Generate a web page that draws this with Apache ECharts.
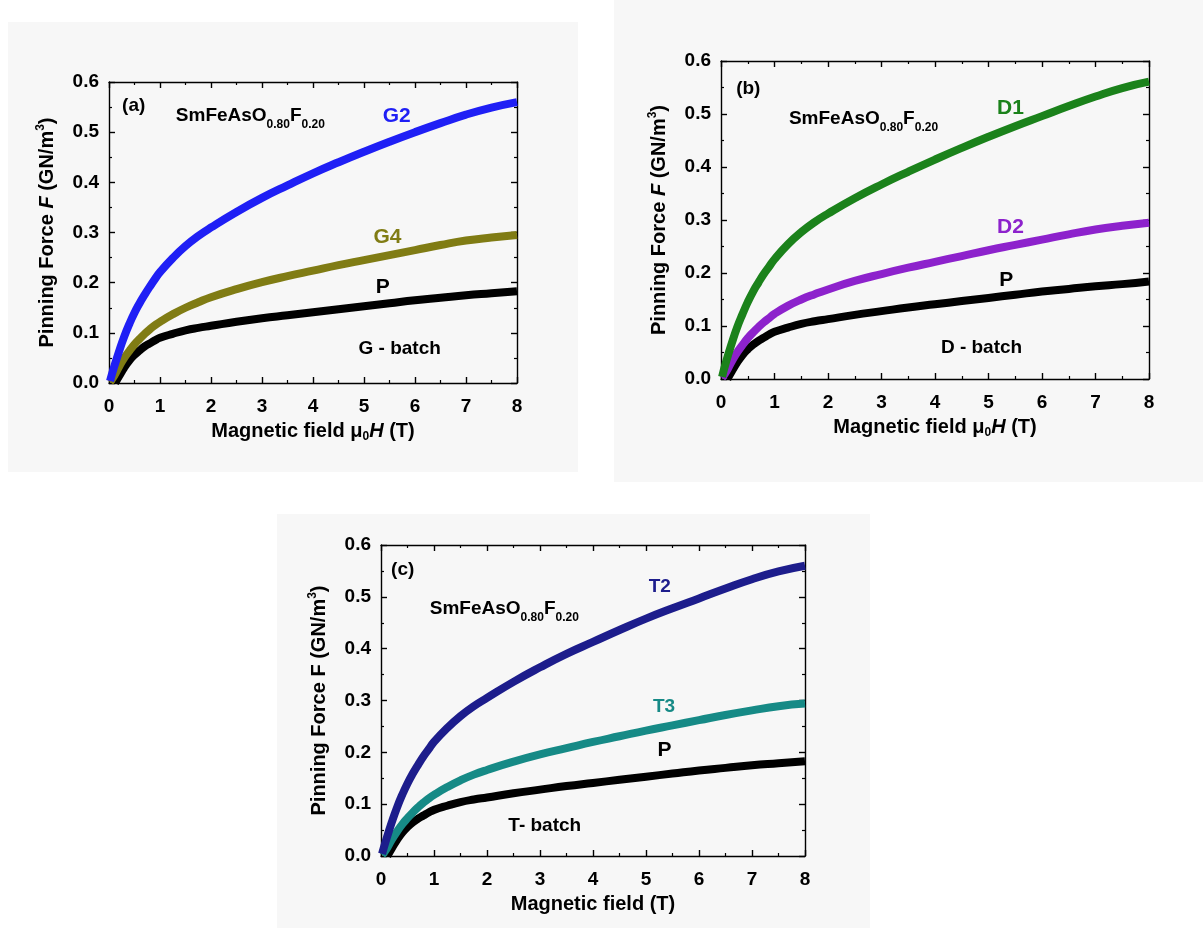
<!DOCTYPE html>
<html><head><meta charset="utf-8">
<script src="https://cdn.jsdelivr.net/npm/echarts@6/dist/echarts.min.js"></script>
<style>html,body{margin:0;padding:0;background:#fff}#c{width:1203px;height:928px}</style>
</head><body><div id="c"></div>
<script>
// ---------- data ----------
const fieldTicks = [0, 1, 2, 3, 4, 5, 6, 7, 8];
const forceTicks = [0.0, 0.1, 0.2, 0.3, 0.4, 0.5, 0.6];
const fieldHigh = [0.02, 0.1, 0.2, 0.3, 0.4, 0.5, 0.6, 0.7, 0.8, 0.9, 1, 1.25, 1.5, 1.75, 2, 2.5, 3, 3.5, 4, 4.5, 5, 5.5, 6, 6.5, 7, 7.5, 8];
const fieldP    = [0.12, 0.2, 0.3, 0.4, 0.5, 0.6, 0.7, 0.8, 0.9, 1, 1.25, 1.5, 1.75, 2, 2.5, 3, 3.5, 4, 4.5, 5, 5.5, 6, 6.5, 7, 7.5, 8];

// panel (a) G-batch
const forceG2 = [0.004, 0.032, 0.064, 0.093, 0.118, 0.140, 0.159, 0.176, 0.192, 0.207, 0.221, 0.249, 0.273, 0.293, 0.310, 0.341, 0.369, 0.394, 0.418, 0.440, 0.461, 0.481, 0.500, 0.518, 0.535, 0.549, 0.560];
const forceG4 = [0.002, 0.014, 0.033, 0.050, 0.064, 0.077, 0.088, 0.098, 0.107, 0.115, 0.122, 0.137, 0.150, 0.161, 0.171, 0.187, 0.201, 0.213, 0.224, 0.235, 0.245, 0.255, 0.265, 0.275, 0.284, 0.290, 0.295];
const forcePa = [0.0, 0.014, 0.031, 0.045, 0.056, 0.065, 0.073, 0.079, 0.085, 0.090, 0.098, 0.105, 0.110, 0.114, 0.122, 0.129, 0.135, 0.141, 0.147, 0.153, 0.159, 0.165, 0.170, 0.175, 0.179, 0.183];
// panel (b) D-batch
const forceD1 = [0.004, 0.034, 0.067, 0.097, 0.122, 0.145, 0.165, 0.182, 0.198, 0.212, 0.226, 0.254, 0.277, 0.296, 0.312, 0.341, 0.367, 0.391, 0.414, 0.436, 0.457, 0.477, 0.496, 0.515, 0.533, 0.549, 0.561];
const forceD2 = [0.002, 0.014, 0.033, 0.050, 0.064, 0.077, 0.088, 0.098, 0.107, 0.115, 0.123, 0.138, 0.150, 0.160, 0.169, 0.185, 0.198, 0.210, 0.221, 0.232, 0.243, 0.253, 0.263, 0.273, 0.282, 0.289, 0.295];
const forcePb = [0.0, 0.014, 0.031, 0.045, 0.056, 0.065, 0.072, 0.078, 0.084, 0.089, 0.097, 0.104, 0.109, 0.113, 0.121, 0.128, 0.135, 0.141, 0.147, 0.153, 0.159, 0.165, 0.170, 0.175, 0.179, 0.184];
// panel (c) T-batch
const forceT2 = [0.004, 0.032, 0.064, 0.093, 0.118, 0.140, 0.159, 0.176, 0.192, 0.206, 0.220, 0.247, 0.270, 0.289, 0.305, 0.336, 0.364, 0.390, 0.413, 0.436, 0.458, 0.478, 0.497, 0.516, 0.534, 0.549, 0.560];
const forceT3 = [0.002, 0.013, 0.031, 0.047, 0.061, 0.073, 0.084, 0.094, 0.103, 0.111, 0.118, 0.133, 0.146, 0.157, 0.166, 0.182, 0.196, 0.208, 0.220, 0.231, 0.242, 0.252, 0.262, 0.272, 0.281, 0.289, 0.294];
const forcePc = [0.0, 0.014, 0.031, 0.045, 0.056, 0.065, 0.072, 0.078, 0.084, 0.089, 0.097, 0.104, 0.109, 0.113, 0.121, 0.128, 0.135, 0.141, 0.147, 0.153, 0.159, 0.165, 0.170, 0.175, 0.179, 0.183];

const compound = 'SmFeAsO{sub|0.80}F{sub|0.20}';

// ---------- styling / layout ----------
const FONT = 'Liberation Sans';
const grids = [
  {left: 109, top: 82, width: 408, height: 301},
  {left: 721, top: 61, width: 428, height: 318},
  {left: 381, top: 545, width: 424, height: 311}
];
const bgRects = [
  {x: 8, y: 22, width: 570, height: 450},
  {x: 614, y: 0, width: 589, height: 482},
  {x: 277, y: 514, width: 593, height: 414}
];

const pair = (xs, ys) => xs.map((x, i) => [x, ys[i]]);

const richDefs = {
  i:   {fontFamily: FONT, fontSize: 20, fontWeight: 'bold', fontStyle: 'italic', color: '#000'},
  sub: {fontFamily: FONT, fontSize: 12, fontWeight: 'bold', lineHeight: 12, verticalAlign: 'bottom', color: '#000'},
  sup: {fontFamily: FONT, fontSize: 12, fontWeight: 'bold', lineHeight: 12, verticalAlign: 'top', color: '#000'}
};

const panels = [
  {
    xName: 'Magnetic field μ{sub|0}{i|H} (T)',
    yName: 'Pinning Force {i|F} (GN/m{sup|3})',
    curves: [
      {name: 'P', x: fieldP, y: forcePa, color: '#000000'},
      {name: 'G4', x: fieldHigh, y: forceG4, color: '#807c14'},
      {name: 'G2', x: fieldHigh, y: forceG2, color: '#1f1ff5'}
    ],
    notes: [
      {at: [0.485, 0.552], text: '(a)'},
      {at: [1.31, 0.532], text: compound, left: true},
      {at: [5.64, 0.532], text: 'G2', color: '#1f1ff5', size: 21},
      {at: [5.46, 0.29], text: 'G4', color: '#807c14', size: 21},
      {at: [5.37, 0.191], text: 'P', size: 21},
      {at: [5.70, 0.068], text: 'G - batch'}
    ]
  },
  {
    xName: 'Magnetic field μ{sub|0}{i|H} (T)',
    yName: 'Pinning Force {i|F} (GN/m{sup|3})',
    curves: [
      {name: 'P', x: fieldP, y: forcePb, color: '#000000'},
      {name: 'D2', x: fieldHigh, y: forceD2, color: '#8d22cc'},
      {name: 'D1', x: fieldHigh, y: forceD1, color: '#1b821b'}
    ],
    notes: [
      {at: [0.51, 0.548], text: '(b)'},
      {at: [1.27, 0.491], text: compound, left: true},
      {at: [5.41, 0.51], text: 'D1', color: '#1b821b', size: 21},
      {at: [5.41, 0.287], text: 'D2', color: '#8d22cc', size: 21},
      {at: [5.33, 0.186], text: 'P', size: 21},
      {at: [4.87, 0.058], text: 'D - batch'}
    ]
  },
  {
    xName: 'Magnetic field (T)',
    yName: 'Pinning Force F (GN/m{sup|3})',
    curves: [
      {name: 'P', x: fieldP, y: forcePc, color: '#000000'},
      {name: 'T3', x: fieldHigh, y: forceT3, color: '#168a86'},
      {name: 'T2', x: fieldHigh, y: forceT2, color: '#1d1d8c'}
    ],
    notes: [
      {at: [0.41, 0.553], text: '(c)'},
      {at: [0.92, 0.477], text: compound, left: true},
      {at: [5.26, 0.52], text: 'T2', color: '#1d1d8c', size: 19},
      {at: [5.34, 0.288], text: 'T3', color: '#168a86', size: 19},
      {at: [5.35, 0.205], text: 'P', size: 21},
      {at: [3.09, 0.059], text: 'T- batch'}
    ]
  }
];

const lineSt = {color: '#000', width: 1.4};
function axisBase(gridIndex, isX, pos, showLabel, name) {
  const base = {
    type: 'value', gridIndex, position: pos,
    min: isX ? fieldTicks[0] : forceTicks[0],
    max: isX ? fieldTicks[fieldTicks.length - 1] : forceTicks[forceTicks.length - 1],
    interval: isX ? fieldTicks[1] - fieldTicks[0] : 0.1,
    axisLine: {show: true, onZero: false, lineStyle: lineSt},
    axisTick: {show: true, inside: true, length: 6, lineStyle: lineSt},
    minorTick: {show: true, splitNumber: 2, length: 3, lineStyle: {color: '#000', width: 1.2}},
    splitLine: {show: false},
    axisLabel: {
      show: showLabel, color: '#000', fontFamily: FONT, fontSize: 19, fontWeight: 'bold',
      margin: isX ? 14 : 10,
      formatter: isX ? (v => String(Math.round(v))) : (v => v.toFixed(1))
    }
  };
  if (name) {
    base.name = name;
    base.nameLocation = 'middle';
    base.nameGap = isX ? 36 : 50;
    base.nameTextStyle = {color: '#000', fontFamily: FONT, fontSize: 20, fontWeight: 'bold', lineHeight: 24, rich: richDefs};
  }
  return base;
}

const option = {
  backgroundColor: '#ffffff',
  animation: false,
  graphic: bgRects.map(r => ({type: 'rect', z: -100, silent: true, shape: r, style: {fill: '#f7f7f7'}})),
  grid: grids.map(g => Object.assign({containLabel: false}, g)),
  xAxis: [], yAxis: [], series: []
};

panels.forEach((p, gi) => {
  option.xAxis.push(axisBase(gi, true, 'bottom', true, p.xName));
  option.xAxis.push(axisBase(gi, true, 'top', false, null));
  option.yAxis.push(axisBase(gi, false, 'left', true, p.yName));
  option.yAxis.push(axisBase(gi, false, 'right', false, null));
  p.curves.forEach(c => {
    option.series.push({
      type: 'line', name: c.name, xAxisIndex: 2 * gi, yAxisIndex: 2 * gi,
      data: pair(c.x, c.y), smooth: 0.5, showSymbol: false, symbol: 'none',
      lineStyle: {color: c.color, width: 8, cap: 'butt', join: 'round'}, clip: true, silent: true
    });
  });
  option.series.push({
    type: 'scatter', xAxisIndex: 2 * gi, yAxisIndex: 2 * gi, symbolSize: 0, silent: true, z: 10,
    itemStyle: {color: '#000', opacity: 0},
    data: p.notes.map(n => ({
      value: n.at,
      label: {
        show: true,
        position: n.left ? 'right' : 'inside',
        distance: 0,
        formatter: n.text,
        color: n.color || '#000',
        opacity: 1,
        textBorderWidth: 0,
        textBorderColor: 'transparent',
        fontSize: n.size || 19,
        fontWeight: 'bold',
        fontFamily: FONT,
        lineHeight: n.left ? 30 : undefined,
        rich: n.left ? {sub: {fontFamily: FONT, fontSize: 12, fontWeight: 'bold', lineHeight: 12, verticalAlign: 'bottom', color: '#000', textBorderWidth: 0}} : undefined
      }
    }))
  });
});

const chart = echarts.init(document.getElementById('c'), null, {renderer: 'canvas'});
chart.setOption(option);
</script>
</body></html>
